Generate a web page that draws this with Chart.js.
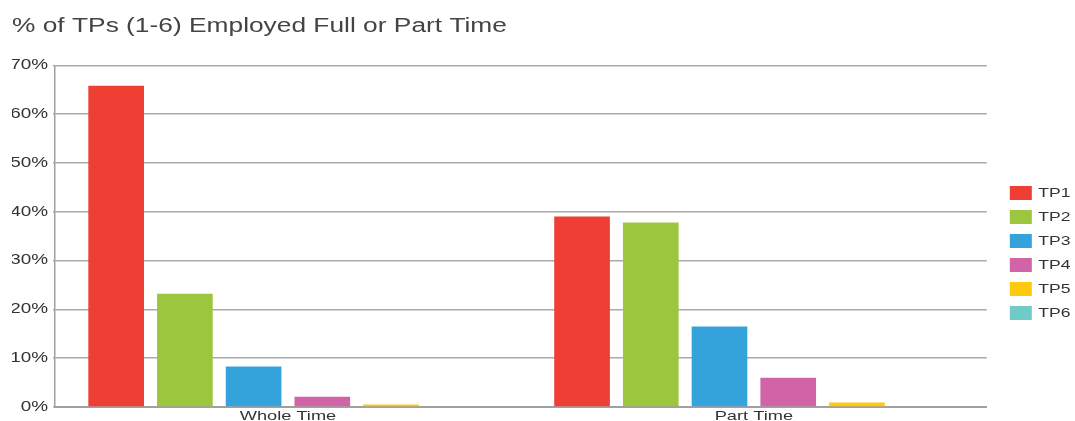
<!DOCTYPE html>
<html>
<head>
<meta charset="utf-8">
<script src="https://cdn.jsdelivr.net/npm/chart.js@4/dist/chart.umd.min.js"></script>
<style>
  html, body { margin: 0; padding: 0; background: #ffffff; }
  #wrap { width: 1075px; height: 421px; }
</style>
</head>
<body>
<div id="wrap"><canvas id="chart" width="1075" height="421"></canvas></div>
<script>
// Employment type categories
const categories = ['Whole Time', 'Part Time'];

// Share of each TP group (percent) per employment type
const tp1 = [65.8, 39.0];
const tp2 = [23.2, 37.8];
const tp3 = [8.3, 16.5];
const tp4 = [2.1, 6.0];
const tp5 = [0.5, 0.9];
const tp6 = [0, 0];

const seriesNames = ['TP1', 'TP2', 'TP3', 'TP4', 'TP5', 'TP6'];
const seriesValues = [tp1, tp2, tp3, tp4, tp5, tp6];
const seriesColors = ['#EF3E33', '#9BC63E', '#34A3DC', '#D064A6', '#FFC90E', '#6FCBC7'];

const datasets = seriesNames.map((name, i) => ({
  label: name,
  data: seriesValues[i],
  backgroundColor: seriesColors[i],
  borderWidth: 0,
  barPercentage: 0.81,
  categoryPercentage: 0.885
}));

const FONT = "'Liberation Sans', Arial, Helvetica, sans-serif";

// The chart uses a horizontally extended typeface: widen every glyph run
// drawn on this canvas, and report the widened size to the layout code.
const TEXT_STRETCH = 1.35;
function useWideText(ctx) {
  const fill = ctx.fillText.bind(ctx);
  const measure = ctx.measureText.bind(ctx);
  ctx.fillText = function (text, x, y, maxWidth) {
    ctx.save();
    ctx.translate(x, y);
    ctx.scale(TEXT_STRETCH, 1);
    if (maxWidth === undefined) fill(text, 0, 0);
    else fill(text, 0, 0, maxWidth / TEXT_STRETCH);
    ctx.restore();
  };
  ctx.measureText = function (text) {
    const m = measure(text);
    return {
      width: m.width * TEXT_STRETCH,
      actualBoundingBoxAscent: m.actualBoundingBoxAscent,
      actualBoundingBoxDescent: m.actualBoundingBoxDescent,
      actualBoundingBoxLeft: m.actualBoundingBoxLeft * TEXT_STRETCH,
      actualBoundingBoxRight: m.actualBoundingBoxRight * TEXT_STRETCH,
      fontBoundingBoxAscent: m.fontBoundingBoxAscent,
      fontBoundingBoxDescent: m.fontBoundingBoxDescent
    };
  };
}

// Nudge the legend block away from the plot and down the right margin.
const legendOffset = {
  id: 'legendOffset',
  afterLayout(chart, args, opts) {
    const lg = chart.legend;
    if (!lg) return;
    lg.left += opts.x; lg.right += opts.x;
    lg.top += opts.y; lg.bottom += opts.y;
  }
};

const canvas = document.getElementById('chart');
const ctx = canvas.getContext('2d');
useWideText(ctx);

new Chart(ctx, {
  type: 'bar',
  data: { labels: categories, datasets },
  plugins: [legendOffset],
  options: {
    responsive: false,
    animation: false,
    layout: { padding: { left: 12, right: 7.5, top: 10, bottom: -5 } },
    plugins: {
      legendOffset: { x: 13, y: 35 },
      title: {
        display: true,
        text: '% of TPs (1-6) Employed Full or Part Time',
        align: 'start',
        color: '#444444',
        font: { family: FONT, size: 19.5, weight: 'normal', lineHeight: 1.2 },
        padding: { top: 4.7, bottom: 27.2 }
      },
      legend: {
        position: 'right',
        align: 'center',
        labels: {
          boxWidth: 22,
          boxHeight: 14,
          padding: 10,
          color: '#333333',
          font: { family: FONT, size: 13 }
        }
      },
      tooltip: { enabled: false }
    },
    scales: {
      x: {
        grid: { display: false, drawTicks: false },
        border: { display: true, color: '#a0a0a0', width: 2 },
        ticks: {
          color: '#333333',
          font: { family: FONT, size: 13.5, lineHeight: 0.82 },
          padding: 4
        }
      },
      y: {
        min: 0,
        max: 70,
        afterFit(scale) { scale.width = 43; },
        ticks: {
          stepSize: 10,
          color: '#333333',
          font: { family: FONT, size: 14 },
          padding: 5,
          callback: v => v + '%'
        },
        grid: { color: '#aaaaaa', lineWidth: 1.5, tickLength: 2 },
        border: { display: true, color: '#a0a0a0', width: 1.5 }
      }
    }
  }
});
</script>
</body>
</html>
